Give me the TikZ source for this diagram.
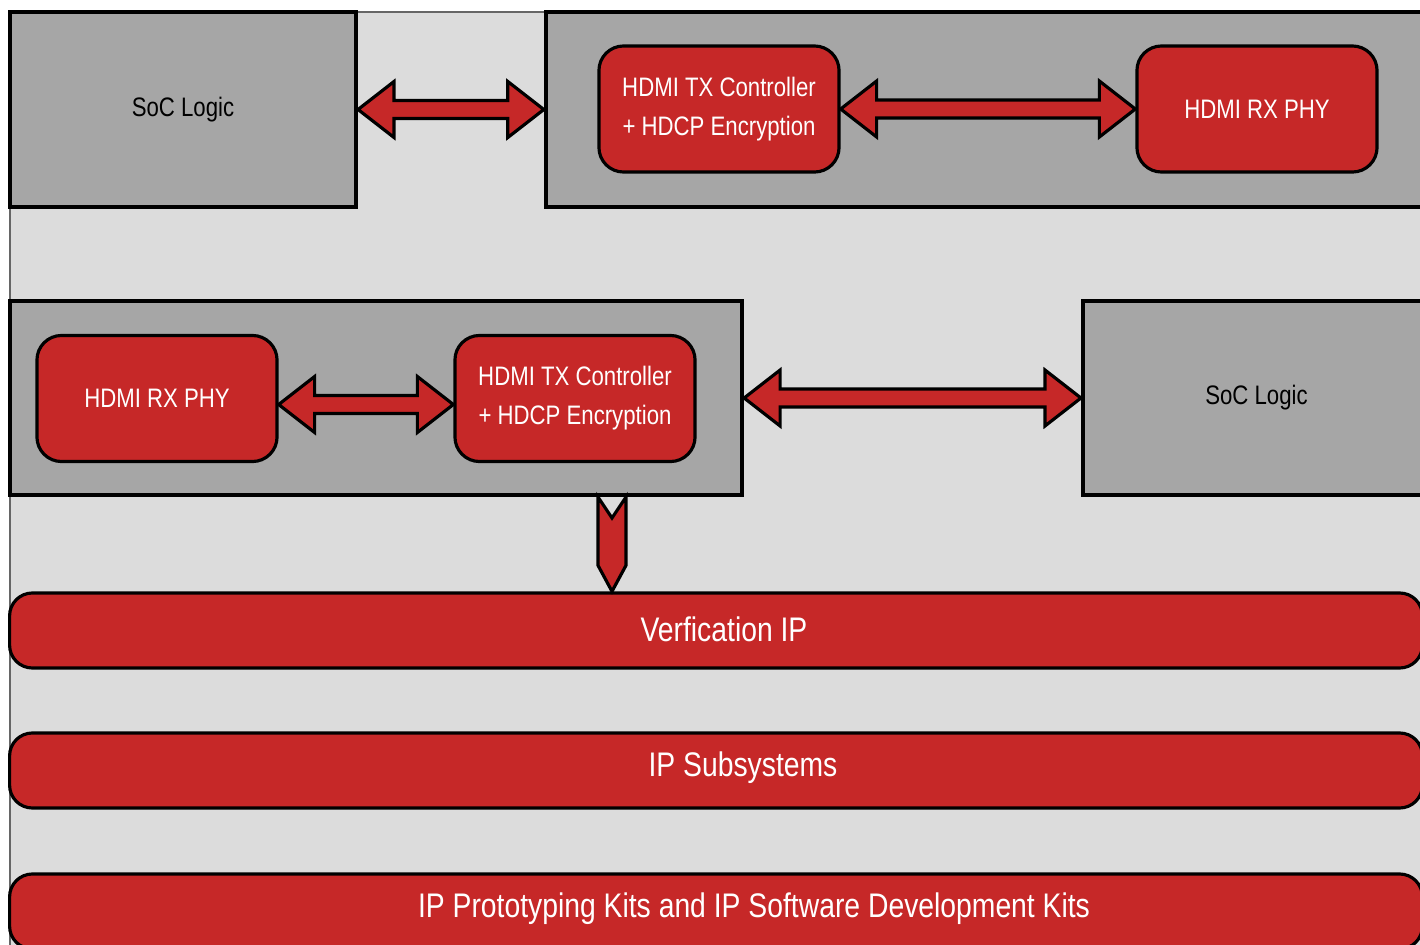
\documentclass[tikz,border=0pt]{standalone}
\usepackage{fontspec}
\setmainfont[FakeStretch=0.83]{Liberation Sans}
\usetikzlibrary{calc}

\definecolor{socgray}{HTML}{A6A6A6}
\definecolor{ipred}{HTML}{C62828}
\definecolor{bggray}{HTML}{DCDCDC}

\tikzset{
  graybox/.style={draw=black, line width=1.1pt, fill=socgray, inner sep=0pt,
    font=\fontsize{7.6}{11}\selectfont},
  redbox/.style={draw=black, line width=0.9pt, fill=ipred, rounded corners=7pt,
    text=white, align=center, inner sep=0pt, minimum width=2.4cm, minimum height=1.26cm,
    font=\fontsize{7.6}{11.1}\selectfont},
  bar/.style={draw=black, line width=0.9pt, fill=ipred, rounded corners=6.5pt,
    minimum width=14.12cm, minimum height=0.75cm},
  bartext/.style={text=white, font=\fontsize{9.7}{11}\selectfont},
  fatarrow/.style={draw=black, line width=0.9pt, fill=ipred, line join=miter}
}

% fat double arrow from tip #1 to tip #2
\newcommand{\dblarrow}[2]{%
  \draw[fatarrow] (#1) -- ($(#1)+(36,28)$) -- ($(#1)+(36,9)$) -- ($(#2)+(-36,9)$)
    -- ($(#2)+(-36,28)$) -- (#2) -- ($(#2)+(-36,-28)$) -- ($(#2)+(-36,-9)$)
    -- ($(#1)+(36,-9)$) -- ($(#1)+(36,-28)$) -- cycle;}

\begin{document}
\begin{tikzpicture}[x=0.01cm, y=-0.01cm]

\useasboundingbox (0,0) rectangle (1420,945);

% Background panel
\fill[white] (0,0) rectangle (1420,945);
\filldraw[fill=bggray, draw=black!60, line width=0.4pt] (10,12) rectangle (1440,960);

% Top row: SoC logic and the HDMI transmitter side
\node[graybox, minimum width=3.46cm, minimum height=1.95cm] (soc1) at (183,109.5) {SoC Logic};
\node[graybox, minimum width=8.84cm, minimum height=1.95cm] (hdmi1) at (988,109.5) {};
\node[redbox] (tx1) at (719,109) {HDMI TX Controller\\+ HDCP Encryption};
\node[redbox] (rx1) at (1257,109) {HDMI RX PHY};

\dblarrow{soc1.east}{hdmi1.west}
\dblarrow{tx1.east}{rx1.west}

% Second row: HDMI receiver side and SoC logic
\node[graybox, minimum width=7.32cm, minimum height=1.94cm] (hdmi2) at (376,398) {};
\node[graybox, minimum width=3.47cm, minimum height=1.94cm] (soc2) at (1256.5,398) {SoC Logic};
\node[redbox] (rx2) at (157,398.5) {HDMI RX PHY};
\node[redbox] (tx2) at (575,398.5) {HDMI TX Controller\\+ HDCP Encryption};

\coordinate (rx2r) at ($(rx2.east)+(0,6)$);
\coordinate (tx2l) at ($(tx2.west)+(0,6)$);
\dblarrow{rx2r}{tx2l}
\dblarrow{hdmi2.east}{soc2.west}

% Bars at the bottom
\node[bar] (verif) at (716,630.5) {};
\node[bar] (subsys) at (716,770.5) {};
\node[bar] (proto) at (716,911.5) {};
\node[bartext] (veriftext) at (724,629) {Verfication IP};
\node[bartext] (subsystext) at (743,768) {IP Subsystems};
\node[bartext] (prototext) at (754,909) {IP Prototyping Kits and IP Software Development Kits};

% Down arrow into the verification bar
\coordinate (dtop) at (hdmi2.south -| 612,0);
\coordinate (dbot) at (verif.north -| 612,0);
\draw[fatarrow] ($(dtop)+(-14,0)$) -- ($(dtop)+(0,21)$) -- ($(dtop)+(14,0)$)
  -- ($(dbot)+(14,-26)$) -- (dbot) -- ($(dbot)+(-14,-26)$) -- cycle;

\end{tikzpicture}
\end{document}
